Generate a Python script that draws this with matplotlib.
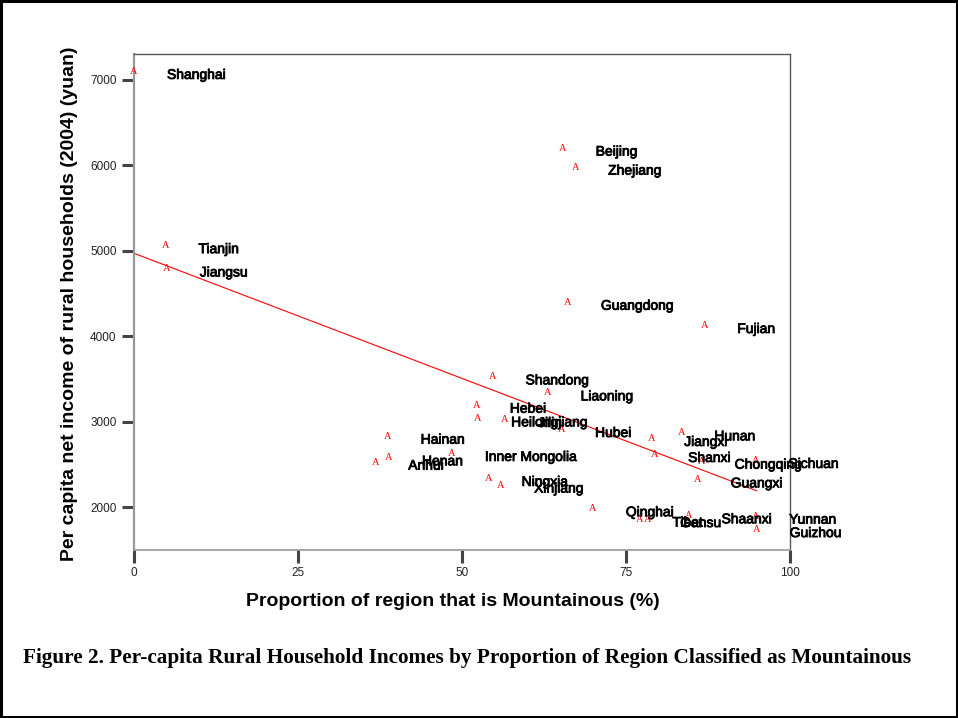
import numpy as np
import matplotlib
matplotlib.use("Agg")
import matplotlib.pyplot as plt
import matplotlib.patheffects as pe
from matplotlib.patches import Rectangle

# ---- data ----
provinces = ["Shanghai", "Beijing", "Zhejiang", "Tianjin", "Jiangsu", "Guangdong",
             "Fujian", "Shandong", "Liaoning", "Hebei", "Heilongjiang", "Jilin",
             "Hubei", "Hainan", "Henan", "Anhui", "Inner Mongolia", "Ningxia",
             "Xinjiang", "Qinghai", "Tibet", "Gansu", "Shaanxi", "Yunnan",
             "Guizhou", "Hunan", "Jiangxi", "Shanxi", "Chongqing", "Sichuan",
             "Guangxi"]
mountainous_pct = [0.0, 65.4, 67.3, 4.8, 5.0, 66.2,
                   87.0, 54.7, 63.1, 52.3, 52.5, 56.6,
                   65.3, 38.7, 38.9, 36.8, 48.5, 54.1,
                   56.0, 70.0, 77.1, 78.3, 84.6, 94.9,
                   95.0, 83.5, 78.9, 79.5, 86.6, 94.8,
                   86.0]
income_yuan = [7067, 6170, 5948, 5030, 4757, 4368,
               4096, 3495, 3308, 3164, 3004, 2997,
               2880, 2802, 2549, 2498, 2600, 2308,
               2230, 1953, 1832, 1827, 1871, 1867,
               1710, 2841, 2775, 2588, 2510, 2518,
               2291]
x_ticks = [0, 25, 50, 75, 100]
y_ticks = [2000, 3000, 4000, 5000, 6000, 7000]

x = np.array(mountainous_pct)
y = np.array(income_yuan)

fig = plt.figure(figsize=(9.58, 7.18), dpi=100)
ax = fig.add_axes([134 / 958, 1 - 550 / 718, (789.5 - 134) / 958, (550 - 54) / 718])
ax.set_xlim(0, 100)
ax.set_ylim(1500, 7300)

# fit line
slope, intercept = np.polyfit(x, y, 1)
xf = np.array([x.min(), x.max()])
ax.plot(xf, intercept + slope * xf, color="red", lw=0.8, zorder=2)

# markers ("A") and labels
for name, xi, yi in zip(provinces, x, y):
    ax.text(xi, yi, "A", color="red", fontsize=7.5, family="Liberation Serif",
            ha="center", va="baseline", zorder=3, clip_on=False)
    ax.annotate(name, (xi, yi), xytext=(33, -1), textcoords="offset pixels",
                fontsize=10, family="Liberation Sans", color="black",
                ha="left", va="center", zorder=4, annotation_clip=False,
                path_effects=[pe.withStroke(linewidth=0.6, foreground="black")])

# spines
for s in ["top", "right"]:
    ax.spines[s].set_color("#555555")
    ax.spines[s].set_linewidth(1.0)
ax.spines["left"].set_color("#999999")
ax.spines["left"].set_linewidth(1.6)
ax.spines["bottom"].set_color("#999999")
ax.spines["bottom"].set_linewidth(1.2)

ax.set_xticks(x_ticks)
ax.set_xticklabels([str(t) for t in x_ticks])
ax.set_yticks(y_ticks)
ax.set_yticklabels([str(t) for t in y_ticks])
ax.tick_params(axis="both", direction="out", length=9, width=2.2, color="#444444",
               labelsize=8.5, labelcolor="#222222", pad=3.5)
for lab in ax.get_xticklabels() + ax.get_yticklabels():
    lab.set_family("Liberation Sans")

fig.text(453 / 958, 1 - 601 / 718, "Proportion of region that is Mountainous (%)",
         fontsize=14, fontweight="bold", family="Liberation Sans",
         ha="center", va="center")
fig.text(70 / 958, 1 - 303.5 / 718,
         "Per capita net income of rural households (2004) (yuan)",
         fontsize=14, fontweight="bold", family="Liberation Sans",
         ha="center", va="center", rotation=90)

fig.text(467 / 958, 1 - 658 / 718,
         "Figure 2. Per-capita Rural Household Incomes by Proportion of Region Classified as Mountainous",
         fontsize=15.3, fontweight="bold", family="Liberation Serif",
         ha="center", va="center")

fig.patches.append(Rectangle((0.001, 0.002), 0.998, 0.996, transform=fig.transFigure,
                             fill=False, edgecolor="black", linewidth=2.2))

fig.savefig("out.png", dpi=100)
